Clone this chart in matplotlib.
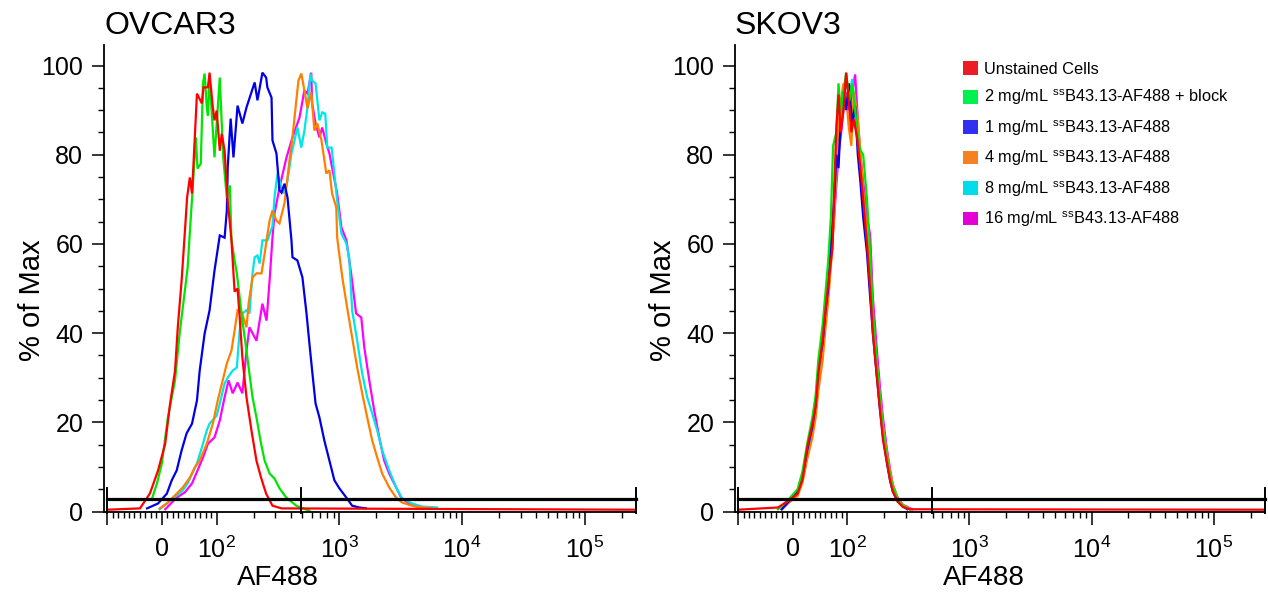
import matplotlib.pyplot as plt
from matplotlib.patches import Patch
from matplotlib.ticker import FixedLocator, FixedFormatter

plt.rcParams['font.family'] = ['Liberation Sans', 'DejaVu Sans']
plt.rcParams['mathtext.fontset'] = 'custom'
plt.rcParams['mathtext.rm'] = 'Liberation Sans'
plt.rcParams['mathtext.it'] = 'Liberation Sans'
plt.rcParams['mathtext.default'] = 'regular'

# ---- OVCAR3 histograms (AF488 value, % of max) ----
ov_unstained_x = [-100, -40, -22, -7, 6, 15, 24, 29, 36, 42, 46, 51, 55, 64, 73, 76, 84, 87, 93, 96, 100,
                  106, 110, 116, 123, 132, 140, 148, 154, 162, 175, 192, 211, 230, 253, 285, 338, 262144]
ov_unstained_y = [0.4, 0.7, 4.0, 9.2, 15.2, 24.2, 31.6, 41.3, 51.8, 62.8, 70.4, 74.9, 71.3, 93.7, 91.5, 95.1, 95.1,
                  98.4, 90.6, 87.7, 89.9, 80.9, 84.7, 80.9, 69.7, 60.8, 49.3, 50.0, 43.5, 34.5, 25.6, 18.2, 11.4,
                  7.6, 4.0, 1.3, 0.7, 0.4]
ov_block_x = [-18, -9, 0, 11, 24, 33, 42, 47, 51, 56, 62, 65, 71, 75, 78, 82, 84, 87, 96, 106, 113, 121, 123,
              128, 132, 140, 146, 154, 162, 175, 185, 196, 211, 230, 246, 270, 296, 325, 370, 446, 503, 570]
ov_block_y = [2.9, 6.3, 10.8, 21.1, 29.4, 40.6, 49.6, 54.7, 62.6, 72, 83.9, 76.9, 78, 96, 98.2, 90.6, 88.8, 97.3,
              79.4, 97.3, 79.4, 70.4, 71.5, 73.1, 60.8, 56.3, 53.4, 48, 42.8, 36.1, 30.9, 25.6, 21.1, 15.2, 11.4,
              8.5, 7.4, 5.2, 3.1, 1.3, 0.7, 0.2]
ov_1mg_x = [-27, -7, 9, 18, 27, 36, 45, 55, 64, 69, 78, 87, 96, 106, 116, 121, 123, 130, 137, 148, 162, 175, 192,
            204, 215, 236, 253, 259, 280, 285, 307, 325, 338, 357, 378, 407, 415, 455, 500, 540, 570, 600, 640,
            688, 755, 830, 911, 1000, 1142, 1272, 1454, 1650]
ov_1mg_y = [0.7, 1.8, 4.0, 7.0, 9.2, 13.7, 17.5, 19.7, 24.9, 31.6, 39.9, 45.1, 54, 61.9, 61.4, 67.5, 77.1, 88.1,
            79.4, 91, 87, 90.6, 94, 96.2, 92.2, 98.4, 97.3, 95.1, 92.8, 83.2, 80.3, 72, 71.5, 73.5, 70.4, 60.8, 57,
            56.3, 52.5, 44.4, 37.7, 31.6, 24.2, 21.1, 15.9, 11.4, 7.0, 5.2, 3.1, 1.3, 0.9, 0.7]
ov_4mg_x = [-4, 9, 27, 38, 51, 60, 69, 82, 93, 102, 112, 121, 132, 140, 148, 160, 175, 182, 196, 211, 232, 246,
            255, 270, 285, 307, 325, 357, 392, 415, 446, 464, 490, 519, 550, 590, 626, 662, 715, 783, 830, 873,
            944, 960, 1057, 1158, 1272, 1398, 1536, 1687, 1853, 2035, 2235, 2550, 2904, 3250, 3925, 4740, 5720]
ov_4mg_y = [0.7, 1.8, 4.0, 5.4, 7.6, 9.9, 11.4, 15.2, 19.7, 24.9, 29.4, 33.2, 36.1, 40.6, 45.1, 44.6, 41.3, 46.6,
            52.5, 53.4, 53.4, 57.8, 60.8, 65.2, 67.5, 65.2, 64.6, 69.1, 78.7, 83.9, 92.2, 96.6, 98.2, 94.4, 90.4, 94,
            85.4, 87, 83.2, 75.8, 76.5, 71.3, 68.2, 61.4, 52.5, 45.7, 39, 32.3, 26.5, 21.1, 15.9, 12.1, 8.5, 5.4,
            3.1, 2.0, 1.3, 0.9, 0.7]
ov_8mg_x = [-4, 20, 38, 47, 64, 75, 82, 87, 100, 106, 116, 123, 135, 146, 154, 162, 175, 185, 196, 204, 215, 224,
            236, 259, 285, 296, 313, 338, 357, 378, 407, 431, 455, 490, 519, 550, 581, 600, 640, 688, 726, 768,
            797, 865, 911, 960, 1040, 1142, 1206, 1272, 1398, 1536, 1687, 1853, 2035, 2235, 2550, 2904, 3250,
            3925, 4740, 6260]
ov_8mg_y = [0.5, 2.9, 4.7, 6.3, 10.8, 15.2, 18.2, 19.7, 21.5, 24.2, 28.7, 30, 31.6, 32.3, 40.6, 44.4, 45.1, 44.4,
            53.4, 57, 57.4, 55.6, 60.8, 60.8, 64, 70.4, 75.8, 72.6, 71.3, 74.2, 80.3, 83.2, 86.1, 81.6, 85.4, 90.6,
            98.2, 96.6, 96, 87.7, 89.5, 89.2, 81.6, 81.6, 75.8, 69.7, 62.3, 60.1, 56.7, 45.1, 38.3, 30.9, 25.6, 22,
            18.2, 13.7, 9.2, 5.4, 2.9, 1.8, 1.1, 0.9]
ov_16mg_x = [6, 27, 42, 55, 65, 75, 84, 96, 106, 116, 125, 135, 148, 162, 175, 185, 211, 236, 255, 270, 285, 296,
             325, 371, 415, 473, 519, 550, 590, 600, 640, 688, 726, 783, 830, 873, 960, 1040, 1142, 1247, 1370,
             1510, 1597, 1754, 1926, 2115, 2322, 2550, 2904, 3190, 3708, 4472, 5720]
ov_16mg_y = [0.5, 3.1, 4.3, 6.3, 9.2, 12.1, 15.2, 16.6, 20.4, 25.6, 29.4, 26.5, 28.9, 26.5, 36.1, 41.3, 38.3, 46.6,
             42.8, 51.8, 61.4, 66.8, 72.6, 79.4, 83.9, 88.3, 94.4, 93.7, 98.4, 91.5, 87, 83.9, 86.1, 82.5, 80.3,
             77.1, 71.3, 63.7, 60.8, 53.4, 44.4, 43.5, 36.8, 29.4, 22.6, 16.6, 11.4, 8.5, 5.4, 3.1, 1.8, 0.9, 0.7]

# ---- SKOV3 histograms ----
sk_unstained_x = [-100, -27, -9, 9, 18, 27, 36, 42, 47, 55, 60, 65, 73, 76, 80, 84, 88, 93, 98, 103, 108, 113,
                  120, 127, 135, 145, 154, 162, 175, 185, 196, 211, 224, 236, 259, 285, 325, 262144]
sk_unstained_y = [0.4, 0.9, 2.3, 4.0, 7.2, 14.6, 19.5, 23.5, 31, 38.5, 45, 51, 59, 72, 86, 93.5, 85, 90, 98.4, 92,
                  85, 88, 84, 78, 70, 60, 50, 40, 30, 23, 16, 11, 7, 4.5, 2.2, 1.0, 0.5, 0.4]
sk_block_x = [-27, -9, 9, 18, 27, 36, 42, 47, 55, 60, 65, 70, 74, 80, 84, 88, 93, 98, 104, 110, 116, 122, 128,
              135, 145, 154, 162, 175, 185, 196, 211, 224, 236, 259, 285, 325]
sk_block_y = [0.5, 2.5, 5.0, 9, 15.5, 21, 26, 34, 42, 49, 56, 66, 82, 85, 96, 88, 94, 98.4, 92, 96, 90, 84, 81,
              80, 70, 58, 45, 33, 25, 18, 12, 8, 5.5, 2.6, 1.3, 0.5]
sk_1mg_x = [-20, -9, 9, 18, 27, 36, 42, 47, 55, 60, 65, 70, 76, 80, 84, 88, 93, 98, 103, 110, 116, 122, 128, 135,
            145, 154, 162, 175, 185, 196, 211, 224, 236, 259, 285, 310]
sk_1mg_y = [0.5, 2, 4.5, 8, 14, 19, 24, 32, 38, 45, 50, 60, 70, 80, 77, 88, 94, 90, 96, 87, 91, 80, 74, 66, 58,
            48, 40, 30, 23, 17, 11, 7, 4.5, 2.2, 1.2, 0.5]
sk_4mg_x = [-20, -9, 9, 18, 27, 36, 42, 47, 55, 60, 65, 70, 76, 80, 84, 88, 93, 98, 103, 108, 113, 120, 127, 135,
            145, 154, 162, 175, 185, 196, 211, 224, 236, 259, 285, 330]
sk_4mg_y = [0.5, 1.8, 3.5, 6.5, 12, 16.5, 21, 27, 34, 41, 47, 55, 66, 78, 86, 92, 96, 93, 86, 82, 94, 90, 82, 72,
            62, 52, 43, 33, 25, 19, 13, 9, 6, 3, 1.5, 0.5]
sk_8mg_x = [-20, -9, 9, 18, 27, 36, 42, 47, 55, 60, 65, 70, 76, 80, 84, 88, 93, 98, 103, 110, 116, 122, 128, 135,
            145, 154, 162, 175, 185, 196, 211, 224, 236, 259, 285, 325]
sk_8mg_y = [0.5, 2, 4, 7.5, 13, 18, 23, 30, 37, 44, 50, 58, 68, 76, 88, 86, 92, 97, 93, 97, 90, 85, 78, 70, 62,
            52, 43, 33, 26, 19, 13, 8.5, 5.5, 2.5, 1.3, 0.5]
sk_16mg_x = [-20, -9, 9, 18, 27, 36, 42, 47, 55, 60, 65, 70, 76, 80, 84, 88, 93, 98, 103, 110, 116, 122, 128, 135,
             145, 154, 162, 175, 185, 196, 211, 224, 236, 259, 285, 340]
sk_16mg_y = [0.5, 1.8, 3.8, 7, 12.5, 17.5, 22, 29, 36, 43, 49, 57, 66, 73, 80, 84, 90, 94, 90, 94, 98, 88, 80, 74,
             66, 62, 48, 36, 28, 21, 14, 9.5, 6, 3, 1.5, 0.5]

labels = ['Unstained Cells',
          '2 mg/mL $^{ss}$B43.13-AF488 + block',
          '1 mg/mL $^{ss}$B43.13-AF488',
          '4 mg/mL $^{ss}$B43.13-AF488',
          '8 mg/mL $^{ss}$B43.13-AF488',
          '16 mg/mL $^{ss}$B43.13-AF488']
line_colors = ['#ff0000', '#00e600', '#0000e6', '#ff8000', '#00e6e6', '#ff00ff']
legend_colors = ['#ed1c24', '#00f050', '#3030f0', '#f58220', '#00dcea', '#e600d8']

x_major = [-100, 0, 100, 1e3, 1e4, 1e5]
x_major_labels = ['', '0', '$10^2$', '$10^3$', '$10^4$', '$10^5$']
x_minor = ([-90, -80, -70, -60, -50, -40, -30, -20, -10, 10, 20, 30, 40, 50, 60, 70, 80, 90]
           + [k * 100 for k in range(2, 10)] + [k * 1000 for k in range(2, 10)]
           + [k * 10000 for k in range(2, 10)] + [200000])
gate_y = 2.7
gate_marks = [-100, 490, 262144]


def draw_panel(ax, xs, ys, title, xlabel_pos):
    for x, y, c in reversed(list(zip(xs, ys, line_colors))):
        ax.plot(x, y, color=c, lw=1.6, solid_joinstyle='miter')
    ax.plot([gate_marks[0], gate_marks[-1]], [gate_y, gate_y], color='black', lw=2.3, clip_on=False)
    for g in gate_marks:
        ax.plot([g, g], [-0.3, 5.3], color='black', lw=1.4, clip_on=False)
    # linscale is divided by (1 - 1/base) internally
    ax.set_xscale('symlog', linthresh=100, linscale=0.402)
    ax.set_xlim(-106, 262144)
    ax.set_ylim(0, 104.6)
    ax.xaxis.set_major_locator(FixedLocator(x_major))
    ax.xaxis.set_major_formatter(FixedFormatter(x_major_labels))
    ax.xaxis.set_minor_locator(FixedLocator(x_minor))
    ax.set_yticks([0, 20, 40, 60, 80, 100])
    ax.set_yticks(range(0, 105, 5), minor=True)
    ax.tick_params(which='major', direction='out', length=9, width=1.1, labelsize=18)
    ax.tick_params(which='minor', direction='out', length=4, width=1.0)
    ax.tick_params(axis='x', which='major', pad=9)
    ax.tick_params(axis='y', which='major', pad=6)
    for s in ['top', 'right']:
        ax.spines[s].set_visible(False)
    for s in ['left', 'bottom']:
        ax.spines[s].set_linewidth(1.3)
    ax.set_title(title, loc='left', fontsize=23, pad=8)
    ax.set_xlabel('AF488', fontsize=20, va='center')
    ax.xaxis.set_label_coords(xlabel_pos, -0.143)
    ax.set_ylabel('% of Max', fontsize=21, va='center')
    ax.yaxis.set_label_coords(-0.135, 0.453)


fig = plt.figure(figsize=(12.68, 5.94), dpi=100)
ax1 = fig.add_axes([104 / 1268, 82.5 / 594, 532 / 1268, 466.5 / 594])
ax2 = fig.add_axes([735 / 1268, 82.5 / 594, 530 / 1268, 466.5 / 594])

draw_panel(ax1,
           [ov_unstained_x, ov_block_x, ov_1mg_x, ov_4mg_x, ov_8mg_x, ov_16mg_x],
           [ov_unstained_y, ov_block_y, ov_1mg_y, ov_4mg_y, ov_8mg_y, ov_16mg_y],
           'OVCAR3', 0.327)
draw_panel(ax2,
           [sk_unstained_x, sk_block_x, sk_1mg_x, sk_4mg_x, sk_8mg_x, sk_16mg_x],
           [sk_unstained_y, sk_block_y, sk_1mg_y, sk_4mg_y, sk_8mg_y, sk_16mg_y],
           'SKOV3', 0.47)

handles = [Patch(facecolor=c, edgecolor='none') for c in legend_colors]
ax2.legend(handles, labels, loc='upper left', bbox_to_anchor=((963 - 735) / 530, (511 - 61) / 466.5),
           frameon=False, fontsize=11.8, handlelength=0.9, handleheight=0.9, handletextpad=0.4,
           labelspacing=0.66, borderpad=0, borderaxespad=0)

fig.savefig('out.png', dpi=100)
